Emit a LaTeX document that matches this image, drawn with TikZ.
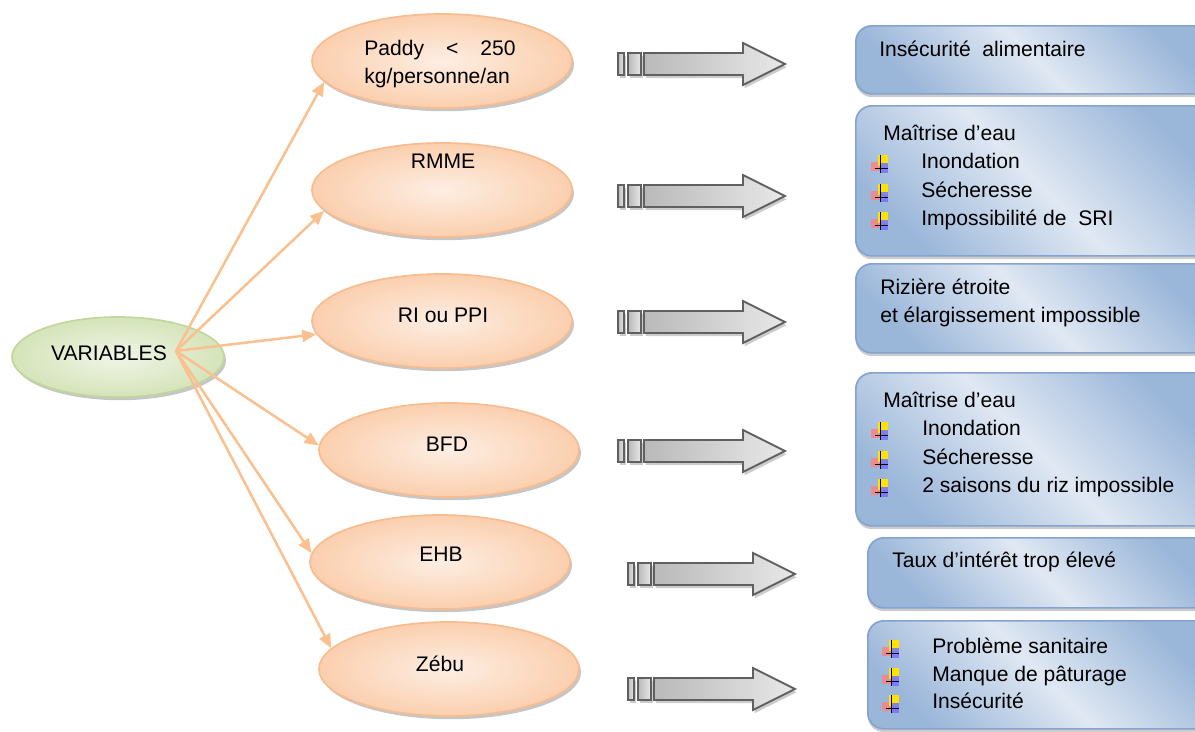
\documentclass[tikz,border=0pt]{standalone}
\usepackage{fontspec}
\setmainfont{Liberation Sans}
\usepackage{tikz}
\usetikzlibrary{positioning, arrows.meta, shapes.geometric, shadows}

\definecolor{orangeBord}{HTML}{F7BC90}
\definecolor{orangeFonce}{HTML}{FBCFAE}
\definecolor{orangeClair}{HTML}{FDEEE3}
\definecolor{vertBord}{HTML}{C3D69B}
\definecolor{vertFonce}{HTML}{D5E4B9}
\definecolor{vertClair}{HTML}{F0F5E7}
\definecolor{bleuBord}{HTML}{84A3CE}
\definecolor{bleuFonce}{HTML}{9AB6D9}
\definecolor{bleuClair}{HTML}{E0E8F3}
\definecolor{couleurLien}{HTML}{FAC090}

\tikzset{
  gris/.style={draw=gray!75!black, line width=1.3pt, left color=gray!55, right color=gray!18,
    drop shadow={shadow xshift=0.04cm, shadow yshift=-0.08cm, fill=gray!40, opacity=1}},
  fleche/.pic={
    \draw[gris] (0,-11) rectangle (6,11);
    \draw[gris] (10,-11) rectangle (23,11);
    \draw[gris] (26,-11) -- (125,-11) -- (125,-21) -- (167,0) -- (125,21) -- (125,11) -- (26,11) -- cycle;
  },
  puce/.pic={
    \fill[red!50, opacity=.8] (-9,-2) rectangle (1,7);
    \fill[yellow!85!orange] (-2,-9) rectangle (8,2);
    \fill[blue!55, opacity=.85] (0,-1) rectangle (8,9);
    \draw[black, line width=.7pt] (0,-9) -- (0,9);
    \draw[black, line width=.7pt] (-5,4) -- (8,4);
  }
}

\begin{document}
\begin{tikzpicture}[x=0.025cm, y=-0.025cm,
    texte/.style={font=\fontsize{15}{20}\selectfont, inner sep=0pt, text height=1.5ex, text depth=.25ex},
    ovale/.style={ellipse, draw=orangeBord, line width=1.2pt, inner color=orangeClair, outer color=orangeFonce,
      minimum width=6.5cm, minimum height=2.35cm, inner sep=0pt,
      drop shadow={shadow xshift=0.05cm, shadow yshift=-0.08cm, fill=gray!45, opacity=1}},
    ovalevert/.style={ellipse, draw=vertBord, line width=1.2pt, inner color=vertClair, outer color=vertFonce,
      minimum width=5.3cm, minimum height=2cm, inner sep=0pt,
      drop shadow={shadow xshift=0.05cm, shadow yshift=-0.08cm, fill=gray!45, opacity=1}},
    boite/.style={rectangle, rounded corners=0.4cm, draw=bleuBord, line width=1.2pt,
      top color=bleuFonce, bottom color=bleuFonce, middle color=bleuClair, shading angle=-45,
      inner sep=0pt, anchor=north west,
      drop shadow={shadow xshift=0cm, shadow yshift=-0.08cm, fill=gray!40, opacity=1}},
    fil/.style={draw=couleurLien, line width=1.8pt, -{Triangle[length=10pt, width=8.5pt]}}
]

    \useasboundingbox (0,0) rectangle (1195,731);

    % Boites a droite
    \node[boite, minimum width=9cm, minimum height=1.7cm] (b1) at (855,25) {};
    \node[boite, minimum width=9cm, minimum height=3.75cm] (b2) at (855,105) {};
    \node[boite, minimum width=9cm, minimum height=2.225cm] (b3) at (855,263) {};
    \node[boite, minimum width=9cm, minimum height=3.825cm] (b4) at (855,372) {};
    \node[boite, minimum width=8.7cm, minimum height=1.75cm] (b5) at (867,537) {};
    \node[boite, minimum width=8.7cm, minimum height=2.7cm] (b6) at (867,620) {};

    % Ellipses
    \node[ovalevert] (var) at (118,357) {};
    \node[ovale] (paddy) at (442,61) {};
    \node[ovale] (rmme) at (442,190) {};
    \node[ovale] (ri) at (442,321) {};
    \node[ovale] (bfd) at (449,450) {};
    \node[ovale] (ehb) at (440,562) {};
    \node[ovale] (zebu) at (449,669) {};

    % Textes des ellipses
    \node[texte] (tvar) at (109,356) {VARIABLES};
    \node[font=\fontsize{15}{20}\selectfont, inner sep=0pt, align=left] (tpaddy) at (440,64)
        {\makebox[3.78cm][l]{Paddy\hfill<\hfill250}\\kg/personne/an};
    \node[texte] (trmme) at (443,164) {RMME};
    \node[texte] (tri) at (443,318) {RI ou PPI};
    \node[texte] (tbfd) at (447,447) {BFD};
    \node[texte] (tehb) at (441,557) {EHB};
    \node[texte] (tzebu) at (440,667) {Zébu};

    % Liens
    \coordinate (depart) at (176,351);
    \draw[fil] (depart) -- (paddy.190);
    \draw[fil] (depart) -- (rmme.190);
    \draw[fil] (depart) -- (ri.186);
    \draw[fil] (depart) -- (bfd.178);
    \draw[fil] (depart) -- (ehb.176);
    \draw[fil] (depart) -- (zebu.170);

    % Grosses fleches grises
    \pic at (618,64) {fleche};
    \pic at (618,196) {fleche};
    \pic at (618,322) {fleche};
    \pic at (618,451) {fleche};
    \pic at (628,574) {fleche};
    \pic at (628,689) {fleche};

    % Contenu des boites
    \node[texte, anchor=west] (c1) at (879,52) {Insécurité\ \ alimentaire};

    \node[texte, anchor=west] (c2) at (883,136) {Maîtrise d’eau};
    \pic at (880,164) {puce};
    \node[texte, anchor=west] (c2a) at (921,164) {Inondation};
    \pic at (880,193) {puce};
    \node[texte, anchor=west] (c2b) at (921,193) {Sécheresse};
    \pic at (880,221) {puce};
    \node[texte, anchor=west] (c2c) at (921,221) {Impossibilité de\ \ SRI};

    \node[texte, anchor=west] (c3a) at (880,290) {Rizière étroite};
    \node[texte, anchor=west] (c3b) at (880,318) {et élargissement impossible};

    \node[texte, anchor=west] (c4) at (883,403) {Maîtrise d’eau};
    \pic at (880,431) {puce};
    \node[texte, anchor=west] (c4a) at (922,431) {Inondation};
    \pic at (880,460) {puce};
    \node[texte, anchor=west] (c4b) at (922,460) {Sécheresse};
    \pic at (880,488) {puce};
    \node[texte, anchor=west] (c4c) at (922,488) {2 saisons du riz impossible};

    \node[texte, anchor=west] (c5) at (892,563) {Taux d’intérêt trop élevé};

    \pic at (891,649) {puce};
    \node[texte, anchor=west] (c6a) at (932,649) {Problème sanitaire};
    \pic at (891,677) {puce};
    \node[texte, anchor=west] (c6b) at (932,677) {Manque de pâturage};
    \pic at (891,704) {puce};
    \node[texte, anchor=west] (c6c) at (932,704) {Insécurité};

\end{tikzpicture}
\end{document}
